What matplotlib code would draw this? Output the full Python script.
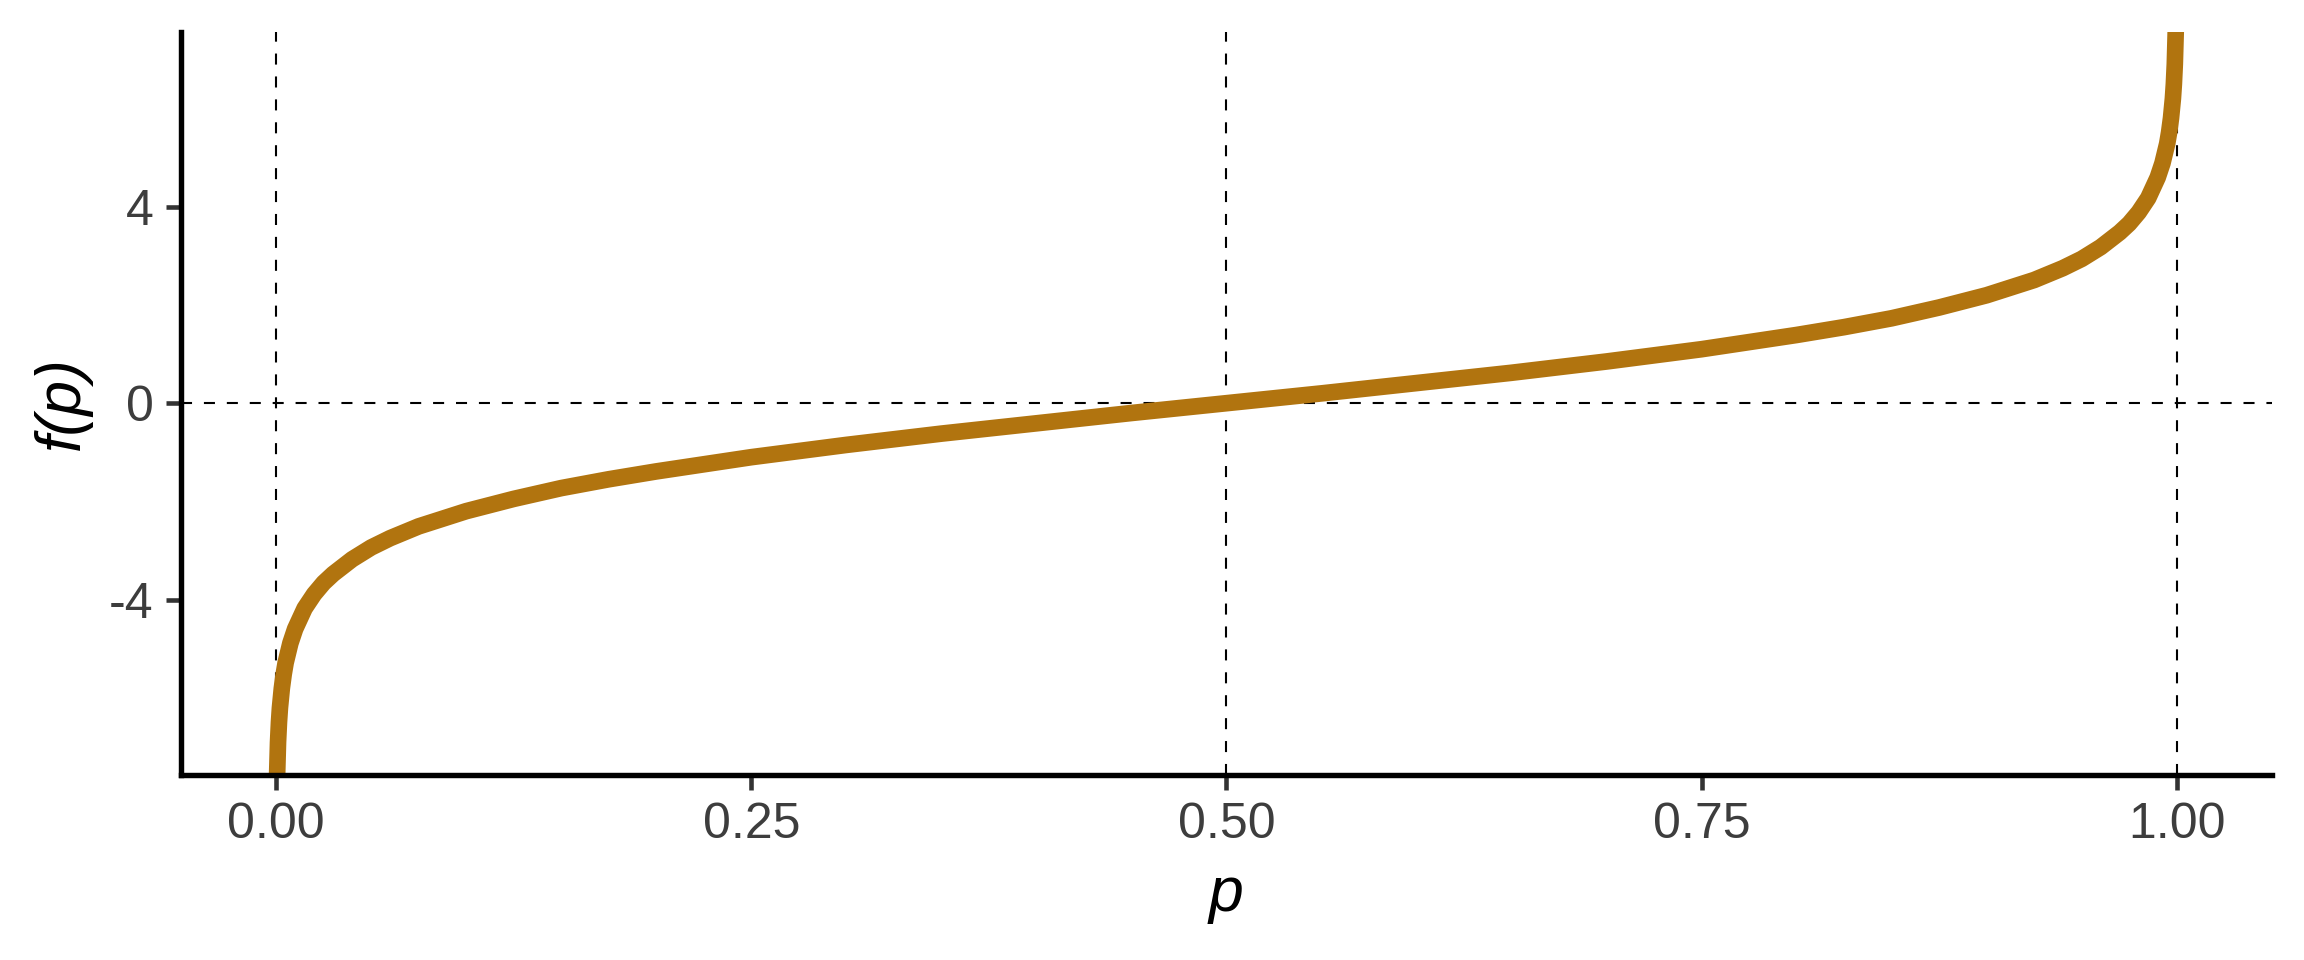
import matplotlib
matplotlib.use("Agg")
import matplotlib.pyplot as plt

# values
p_vals = [0.0005, 0.001, 0.0015, 0.002, 0.003, 0.004, 0.005, 0.0075, 0.01, 0.015,
          0.02, 0.025, 0.03, 0.04, 0.05, 0.06, 0.075, 0.1, 0.125, 0.15, 0.175,
          0.2, 0.25, 0.3, 0.35, 0.4, 0.45, 0.5]
f_vals = [-7.60, -6.91, -6.50, -6.21, -5.81, -5.52, -5.29, -4.89, -4.60, -4.18,
          -3.89, -3.66, -3.48, -3.18, -2.94, -2.75, -2.51, -2.20, -1.95, -1.73, -1.55,
          -1.39, -1.10, -0.85, -0.62, -0.41, -0.20, 0.00]
# right half mirrors the left half
p_vals = p_vals + [1 - p for p in reversed(p_vals[:-1])]
f_vals = f_vals + [-f for f in reversed(f_vals[:-1])]

x_ticks = [0.0, 0.25, 0.5, 0.75, 1.0]
x_labels = ["0.00", "0.25", "0.50", "0.75", "1.00"]
y_ticks = [-4, 0, 4]
y_labels = ["-4", "0", "4"]

plt.rcParams['font.family'] = ['Liberation Sans', 'DejaVu Sans']

fig = plt.figure(figsize=(7.68, 3.2), dpi=300)
ax = fig.add_axes([0.0786, 0.193, 0.9074, 0.774])

dash = (0, (5.3, 5.7))
for xv in [0.0, 0.5, 1.0]:
    ax.axvline(xv, color="black", lw=0.5, linestyle=dash, zorder=1)
ax.axhline(0, color="black", lw=0.5, linestyle=dash, zorder=1)

ax.plot(p_vals, f_vals, color="#B1740F", lw=4.0, solid_joinstyle="round",
        solid_capstyle="butt", zorder=2)

ax.set_xlim(-0.05, 1.05)
ax.set_ylim(-7.57, 7.57)

ax.spines["top"].set_visible(False)
ax.spines["right"].set_visible(False)
for s in ["left", "bottom"]:
    ax.spines[s].set_linewidth(1.3)
    ax.spines[s].set_color("black")

ax.set_xticks(x_ticks)
ax.set_xticklabels(x_labels)
ax.set_yticks(y_ticks)
ax.set_yticklabels(y_labels)
ax.tick_params(length=3.6, width=1.1, color="#333333", labelsize=12,
               labelcolor="#3D3D3D", pad=3)

ax.set_xlabel("p", fontsize=15, style="italic", labelpad=4)
ax.set_ylabel("f(p)", fontsize=15, style="italic", labelpad=4)

fig.savefig("out.png", dpi=300)
